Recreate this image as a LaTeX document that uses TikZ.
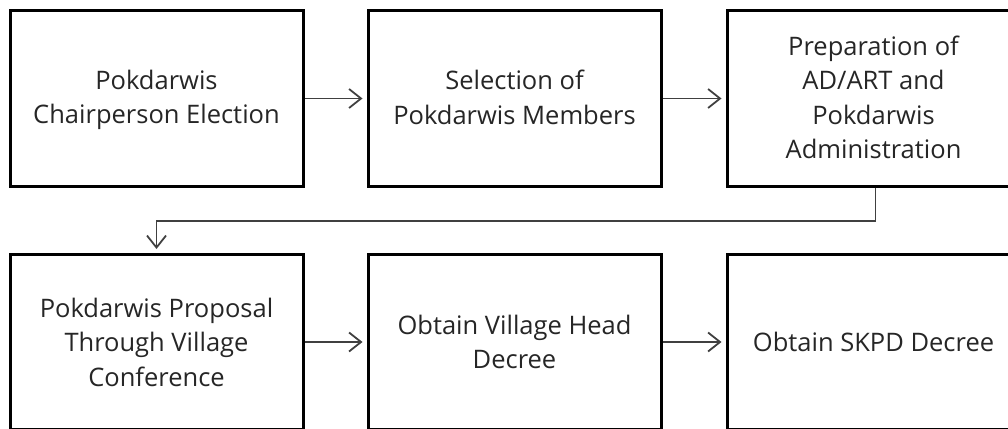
\documentclass[tikz,border=0pt]{standalone}
\usepackage{fontspec}
\setmainfont{Open Sans}
\usetikzlibrary{arrows.meta}
\definecolor{txt}{HTML}{262626}
\definecolor{wire}{HTML}{404040}
\tikzset{
  stepbox/.style={draw=black, line width=3pt, minimum width=293pt, minimum height=175pt,
    inner sep=0pt, align=center, text=txt, font=\fontsize{25.5}{34.5}\selectfont},
  link/.style={draw=wire, line width=1.8pt,
    -{Straight Barb[length=12pt,width=19pt,line width=1.8pt]}, shorten >=4pt},
}
\begin{document}
\begin{tikzpicture}[x=1pt,y=-1pt]
\useasboundingbox (0,0) rectangle (1008,428);
\clip (0,0) rectangle (1008,428);
% top row
\node[stepbox, text depth=3pt] (b1) at (156.5,98.5) {Pokdarwis\\Chairperson Election};
\node[stepbox, text depth=3pt] (b2) at (514.5,98.5) {Selection of\\Pokdarwis Members};
\node[stepbox, text depth=3pt] (b3) at (873.5,98.5) {Preparation of\\AD/ART and\\Pokdarwis\\Administration};
% bottom row
\node[stepbox] (b4) at (156.5,342) {Pokdarwis Proposal\\Through Village\\Conference};
\node[stepbox] (b5) at (514.5,342) {Obtain Village Head\\Decree};
\node[stepbox] (b6) at (873.5,342) {Obtain SKPD Decree};
% connectors
\draw[link] (b1.east) -- (b2.west);
\draw[link] (b2.east) -- (b3.west);
\coordinate (k1) at ([xshift=2pt]b3.south |- 0,221);
\coordinate (k2) at (b4.north |- 0,221);
\draw[link] ([xshift=2pt]b3.south) -- (k1) -- (k2) -- (b4.north);
\draw[link] (b4.east) -- (b5.west);
\draw[link] (b5.east) -- (b6.west);
\end{tikzpicture}
\end{document}
